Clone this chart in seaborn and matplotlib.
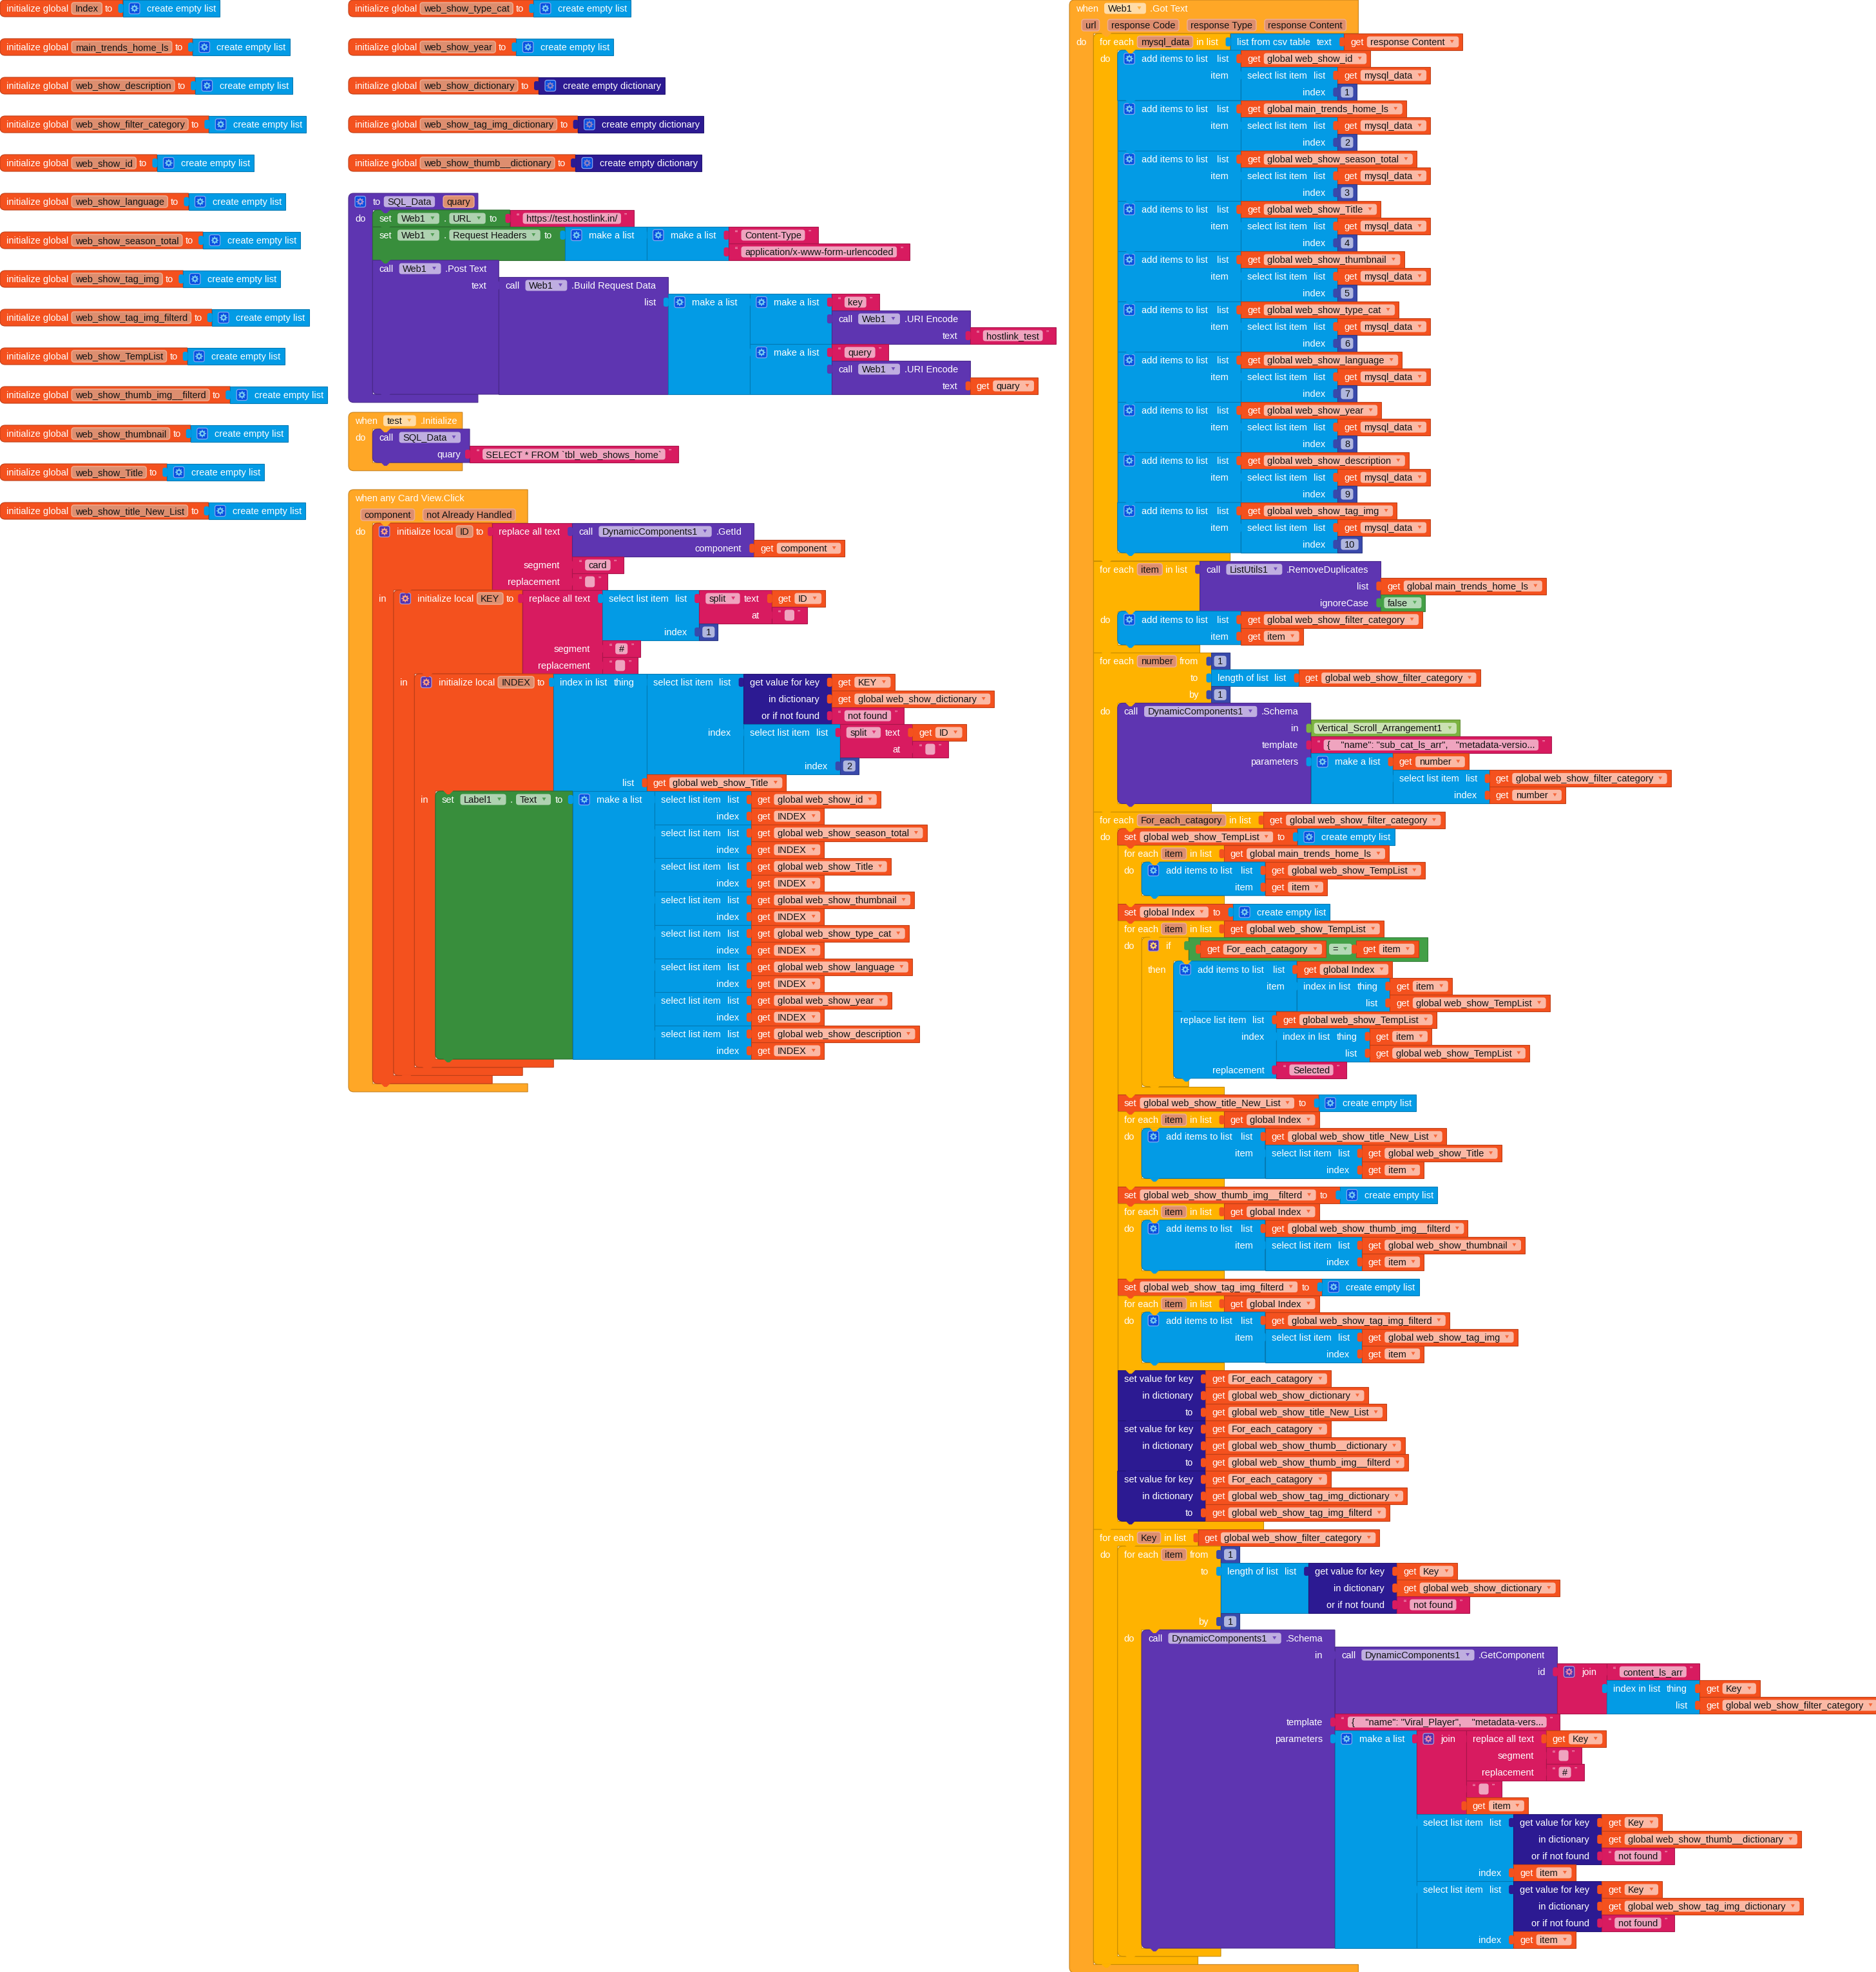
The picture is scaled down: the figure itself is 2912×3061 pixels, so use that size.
import matplotlib
matplotlib.use("Agg")
import matplotlib.pyplot as plt
import seaborn as sns
from matplotlib.font_manager import FontProperties
from matplotlib.patches import Circle, FancyBboxPatch, PathPatch, Polygon
from matplotlib.path import Path
import math

# App Inventor blocks, laid out by nesting, the sizes come from the measured text

# Variable names and other texts
LEFT_LIST_VARS = ["Index", "main_trends_home_ls", "web_show_description", "web_show_filter_category",
                  "web_show_id", "web_show_language", "web_show_season_total", "web_show_tag_img",
                  "web_show_tag_img_filterd", "web_show_TempList", "web_show_thumb_img__filterd",
                  "web_show_thumbnail", "web_show_Title", "web_show_title_New_List"]
RIGHT_LIST_VARS = ["web_show_type_cat", "web_show_year"]
RIGHT_DICT_VARS = ["web_show_dictionary", "web_show_tag_img_dictionary", "web_show_thumb__dictionary"]
CARD_TARGETS = ["global web_show_id", "global web_show_season_total", "global web_show_Title",
                "global web_show_thumbnail", "global web_show_type_cat", "global web_show_language",
                "global web_show_year", "global web_show_description"]
MYSQL_TARGETS = ["global web_show_id", "global main_trends_home_ls", "global web_show_season_total",
                 "global web_show_Title", "global web_show_thumbnail", "global web_show_type_cat",
                 "global web_show_language", "global web_show_year", "global web_show_description",
                 "global web_show_tag_img"]
MYSQL_INDEXES = [1, 2, 3, 4, 5, 6, 7, 8, 9, 10]
FILTERED_LISTS = ["global web_show_title_New_List", "global web_show_thumb_img__filterd",
                  "global web_show_tag_img_filterd"]
FILTER_SOURCES = ["global web_show_Title", "global web_show_thumbnail", "global web_show_tag_img"]
FILTER_DICTS = ["global web_show_dictionary", "global web_show_thumb__dictionary",
                "global web_show_tag_img_dictionary"]
GOT_TEXT_PARAMS = ["url", "response Code", "response Type", "response Content"]
CLICK_PARAMS = ["component", "not Already Handled"]
SCHEMA_ONE = '{    "name": "sub_cat_ls_arr",   "metadata-versio...'
SCHEMA_TWO = '{    "name": "Viral_Player",    "metadata-vers...'
SQL_TEXT = "SELECT * FROM `tbl_web_shows_home`"

sns.set_theme(style="white")
plt.rcParams["font.family"] = ["Liberation Sans", "DejaVu Sans"]

ORANGE, BLUE, PURPLE, GREEN, PINK = sns.color_palette(["#F4511E", "#039BE5", "#5E35B1", "#388E3C", "#D81B60"])
DARK, INDIGO, AMBER, EVENT, LOGIC, COMP = sns.color_palette(["#2C1A92", "#3949AB", "#FFB300", "#FFA726", "#43A047", "#7CB342"])
MUT_BLUE = (0.04, 0.31, 0.88)
MUT_PURPLE = (0.33, 0.2, 0.68)
WHITE = (1, 1, 1)
BLACK = (0, 0, 0)

FONT_PX = 14.6
ROW_H = 26
BAR_H = 12.7
GAP = 5

fig = plt.figure(figsize=(29.12, 30.61), dpi=100)
ax = fig.add_axes([0, 0, 1, 1])
ax.set_xlim(0, 2912)
ax.set_ylim(3061, 0)
sns.despine(ax=ax, left=True, bottom=True)
ax.set_xticks([])
ax.set_yticks([])

renderer = fig.canvas.get_renderer()
font_prop = FontProperties(family="Liberation Sans", size=FONT_PX * 0.72)
width_cache = {}


def mix(c, other, amount):
    return tuple(a + (b - a) * amount for a, b in zip(c, other))


def text_w(s):
    if s not in width_cache:
        width_cache[s] = renderer.get_text_width_height_descent(s, font_prop, False)[0]
    return width_cache[s]


# field helpers
def d(s):
    return ("d", s)


def p(s):
    return ("p", s)


def f(s):
    return ("f", s)


def mut(color=MUT_BLUE):
    return ("m", color)


def gap(n):
    return ("g", n)


def R(fields, child=None, stack=None, indent=0):
    return {"fields": fields, "child": child, "stack": stack, "indent": indent}


def B(color, rows, lpad=10, rpad=None):
    return {"color": color, "rows": rows, "lpad": lpad, "rpad": rpad}


def param_row(names):
    fields = []
    for name in names:
        if fields:
            fields.append(gap(3))
        fields.append(p(name))
    return R(fields, indent=9)


# block helpers
def get(name):
    return B(ORANGE, [R(["get", d(name)])])


def txt(s):
    return B(PINK, [R([("q", "\u201c"), f(s), ("q", "\u201d")])], rpad=10)


def num(n):
    return B(INDIGO, [R([f(str(n))])], lpad=5, rpad=5)


def empty_list():
    return B(BLUE, [R([mut(), "create empty list"])])


def empty_dict():
    return B(DARK, [R([mut(), "create empty dictionary"])])


def init_global(name, child):
    return B(ORANGE, [R(["initialize global", p(name), "to"], child)], rpad=15)


def make_list(*items):
    rows = [R([mut(), "make a list"], items[0])]
    for it in items[1:]:
        rows.append(R([], it))
    return B(BLUE, rows)


def select(lst, idx):
    return B(BLUE, [R(["select list item", gap(0), "list"], lst), R(["index"], idx)])


def index_in_list(thing, lst):
    return B(BLUE, [R(["index in list", gap(0), "thing"], thing), R(["list"], lst)])


def length_of(lst):
    return B(BLUE, [R(["length of list", gap(0), "list"], lst)])


def split(text, at):
    return B(PINK, [R([d("split"), "text"], text), R(["at"], at)])


def replace_all(a, seg, rep):
    return B(PINK, [R(["replace all text"], a), R(["segment"], seg), R(["replacement"], rep)])


def join(*items):
    rows = [R([mut(MUT_PURPLE), "join"], items[0])]
    for it in items[1:]:
        rows.append(R([], it))
    return B(PINK, rows, rpad=16)


def dict_get(key, dct, missing):
    return B(DARK, [R(["get value for key"], key), R(["in dictionary"], dct), R(["or if not found"], missing)])


def dict_set(key, dct, value):
    return B(DARK, [R(["set value for key"], key), R(["in dictionary"], dct), R(["to"], value)])


def add_items(lst, item):
    return B(BLUE, [R([mut(), "add items to list", gap(4), "list"], lst), R(["item"], item)])


def foreach(var, source, stack):
    return B(AMBER, [R(["for each", p(var), "in list"], source), R(["do"], stack=stack)])


def set_global(name, child):
    return B(ORANGE, [R(["set", d(name), "to"], child)])


def set_prop(comp, prop, child, rpad=None):
    return B(GREEN, [R(["set", gap(-1), d(comp), ".", d(prop), "to"], child)], rpad=rpad)


def call_head(comp, method=None):
    fields = ["call", gap(-1), d(comp)]
    if method:
        fields.append(method)
    return R(fields)


def call_web(method, rows):
    return B(PURPLE, [call_head("Web1", method)] + rows)


def uri_encode(child):
    return call_web(".URI Encode", [R(["text"], child)])


def local_init(name, child, stack):
    return B(ORANGE, [R([mut(MUT_PURPLE), "initialize local", p(name), "to"], child), R(["in"], stack=stack)], rpad=13)


def for_range(var, start, stop, step, stack):
    return B(AMBER, [R(["for each", p(var), "from"], start), R(["to"], stop), R(["by"], step), R(["do"], stack=stack)])


# layout
def field_w(fld):
    if isinstance(fld, str):
        return text_w(fld)
    if isinstance(fld, dict):
        measure(fld)
        return fld["w"]
    kind, val = fld
    if kind == "d":
        return text_w(val) + 27
    if kind in "pf":
        return max(text_w(val) + 11, 14)
    if kind == "m":
        return 16.5
    if kind == "q":
        return 5
    return val


def gap_after(fld):
    # the mutator icon and the dropdowns keep more air on their right
    if isinstance(fld, tuple) and fld[0] == "m":
        return 11
    if isinstance(fld, tuple) and fld[0] == "d":
        return 6.5
    return GAP


def fields_w(fields):
    total = 0
    for i, fld in enumerate(fields):
        total += field_w(fld)
        if i < len(fields) - 1:
            total += gap_after(fld)
    return total


def measure(b):
    widest = 0
    indent = 0
    has_child = False
    height = 0
    for row in b["rows"]:
        row["fw"] = fields_w(row["fields"]) + row["indent"]
        row["h"] = ROW_H
        if row["stack"]:
            indent = max(indent, b["lpad"] + row["fw"] + 11)
            total = 0
            for s in row["stack"]:
                measure(s)
                total += s["h"]
            row["h"] = max(ROW_H, total)
        else:
            widest = max(widest, row["fw"])
            for x in row["fields"]:
                if isinstance(x, dict):
                    row["h"] = max(row["h"], x["h"] + 11)
            if row["child"]:
                has_child = True
                measure(row["child"])
                row["h"] = max(row["h"], row["child"]["h"])
        height += row["h"]
    rpad = b["rpad"] if b["rpad"] is not None else (19 if has_child else 6)
    b["w"] = b["lpad"] + widest + rpad
    b["indent"] = indent
    b["used_rpad"] = rpad
    if b["rows"][-1]["stack"]:
        height += BAR_H
    b["h"] = height


def draw_body(b, x, y, round_top, round_bottom):
    verts = []
    yy = y
    for row in b["rows"]:
        rx = x + (b["indent"] if row["stack"] else b["w"])
        verts += [(rx, yy), (rx, yy + row["h"])]
        yy += row["h"]
    if b["rows"][-1]["stack"]:
        verts += [(x + b["w"], yy), (x + b["w"], yy + BAR_H)]
        yy += BAR_H
    rt = 8 if round_top else 0
    rb = 8 if round_bottom else 0
    points = [(x + rt, y)] + verts
    codes = [Path.MOVETO] + [Path.LINETO] * len(verts)
    points.append((x + rb, yy))
    codes.append(Path.LINETO)
    if rb:
        points += [(x, yy), (x, yy - rb)]
        codes += [Path.CURVE3, Path.CURVE3]
    points.append((x, y + rt))
    codes.append(Path.LINETO)
    if rt:
        points += [(x, y), (x + rt, y)]
        codes += [Path.CURVE3, Path.CURVE3]
    ax.add_patch(PathPatch(Path(points, codes), facecolor=b["color"], edgecolor=mix(b["color"], BLACK, 0.22), linewidth=0.8))


def draw_gear(cx, cy, gear, fill):
    for a in (0, 45, 90, 135):
        dx = 5.8 * math.cos(math.radians(a))
        dy = 5.8 * math.sin(math.radians(a))
        ax.add_patch(PathPatch(Path([(cx - dx, cy - dy), (cx + dx, cy + dy)]), edgecolor=gear, linewidth=1.1, fill=False))
    ax.add_patch(Circle((cx, cy), 4.4, facecolor=gear, edgecolor="none"))
    ax.add_patch(Circle((cx, cy), 2, facecolor=fill, edgecolor="none"))


def draw_field(fld, b, fx, cy):
    color = b["color"]
    if isinstance(fld, str):
        ax.text(fx, cy + 5, fld, color="white", fontsize=FONT_PX * 0.72, va="baseline", ha="left")
        return
    if isinstance(fld, dict):
        draw_block(fld, fx, cy - fld["h"] / 2, tab=True)
        return
    kind, val = fld
    w = field_w(fld)
    if kind == "q":
        ax.text(fx, cy + 1, val, color=mix(color, WHITE, 0.8), fontsize=9, va="baseline", ha="left")
    elif kind == "m":
        ax.add_patch(FancyBboxPatch((fx, cy - 8.5), w, 17, boxstyle="round,pad=0,rounding_size=3", facecolor=val,
                                    edgecolor=mix(val, WHITE, 0.5), linewidth=0.9))
        draw_gear(fx + w / 2, cy, mix(color, WHITE, 0.45), val)
    elif kind == "p":
        ax.add_patch(FancyBboxPatch((fx, cy - 9), w, 18, boxstyle="round,pad=0,rounding_size=4", facecolor="#DD8E6F",
                                    edgecolor="#EFAC91", linewidth=1.1))
        ax.text(fx + 5.5, cy + 5, val, color="#111111", fontsize=FONT_PX * 0.72, va="baseline", ha="left")
    elif kind in "df":
        ax.add_patch(FancyBboxPatch((fx, cy - 8.5), w, 17, boxstyle="round,pad=0,rounding_size=4",
                                    facecolor=mix(color, WHITE, 0.6), edgecolor="none"))
        ax.text(fx + 5.5, cy + 5, val, color="#111111", fontsize=FONT_PX * 0.72, va="baseline", ha="left")
        if kind == "d":
            tx = fx + w - 10.5
            ax.add_patch(Polygon([(tx - 3, cy - 3), (tx + 3, cy - 3), (tx, cy + 2)], facecolor=mix(color, WHITE, 0.12), edgecolor="none"))


def notch(x, y, color):
    ax.add_patch(Polygon([(x + 12, y - 1), (x + 28, y - 1), (x + 22, y + 5), (x + 18, y + 5)], facecolor=color, edgecolor="none"))


def draw_block(b, x, y, tab=False, round_top=False, round_bottom=False):
    draw_body(b, x, y, round_top, round_bottom)
    if tab:
        ax.add_patch(FancyBboxPatch((x - 7, y + 6), 8, 14, boxstyle="round,pad=0,rounding_size=3", facecolor=b["color"], edgecolor="none"))
    yy = y
    for i, row in enumerate(b["rows"]):
        inline = any(isinstance(z, dict) for z in row["fields"])
        cy = yy + (row["h"] / 2 if inline else ROW_H / 2)
        left = i == 0 or row["stack"] or row["indent"]
        fx = x + b["lpad"] + row["indent"] if left else x + b["w"] - b["used_rpad"] - row["fw"]
        for fld in row["fields"]:
            draw_field(fld, b, fx, cy)
            fx += field_w(fld) + gap_after(fld)
        if row["child"]:
            draw_block(row["child"], x + b["w"], yy, tab=True)
        if row["stack"]:
            draw_stack(row["stack"], x + b["indent"], yy, b["color"])
        yy += row["h"]


def draw_stack(stack, x, y, parent_color):
    yy = y
    for i, s in enumerate(stack):
        draw_block(s, x, yy, round_top=i == 0, round_bottom=i == len(stack) - 1)
        yy += s["h"]
    notch(x, y, parent_color)
    yy = y
    for s in stack:
        yy += s["h"]
        notch(x, yy, s["color"])


def place(b, x, y, bottom=True):
    measure(b)
    draw_block(b, x, y, round_top=True, round_bottom=bottom)


# Top left rows of global variables
for i, name in enumerate(LEFT_LIST_VARS):
    place(init_global(name, empty_list()), 0, i * 60)
for i, name in enumerate(RIGHT_LIST_VARS):
    place(init_global(name, empty_list()), 541, i * 60)
for i, name in enumerate(RIGHT_DICT_VARS):
    place(init_global(name, empty_dict()), 541, (i + 2) * 60)

# to SQL_Data
build_request = call_web(".Build Request Data", [R(["list"], make_list(
    make_list(txt("key"), uri_encode(txt("hostlink_test"))),
    make_list(txt("query"), uri_encode(get("quary")))))])
sql_proc = B(PURPLE, [
    R([mut(), "to", f("SQL_Data"), gap(3), p("quary")]),
    R(["do"], stack=[
        set_prop("Web1", "URL", txt("https://test.hostlink.in/")),
        set_prop("Web1", "Request Headers", make_list(make_list(txt("Content-Type"), txt("application/x-www-form-urlencoded")))),
        call_web(".Post Text", [R(["text"], build_request)]),
    ])])
place(sql_proc, 541, 300)

# when test.Initialize
when_test = B(EVENT, [
    R(["when", gap(-1), d("test"), ".Initialize"]),
    R(["do"], stack=[B(PURPLE, [call_head("SQL_Data"), R(["quary"], txt(SQL_TEXT))], rpad=14)]),
], rpad=8)
place(when_test, 541, 640)

# when any Card View.Click
label_set = set_prop("Label1", "Text", make_list(*[select(get(t), get("INDEX")) for t in CARD_TARGETS]), rpad=15)
index_child = index_in_list(
    select(dict_get(get("KEY"), get("global web_show_dictionary"), txt("not found")),
           select(split(get("ID"), txt(" ")), num(2))),
    get("global web_show_Title"))
key_child = replace_all(select(split(get("ID"), txt(" ")), num(1)), txt("#"), txt(" "))
id_child = replace_all(
    B(PURPLE, [call_head("DynamicComponents1", ".GetId"), R(["component"], get("component"))]),
    txt("card"), txt(" "))
when_card = B(EVENT, [
    R(["when any Card View.Click"]),
    param_row(CLICK_PARAMS),
    R(["do"], stack=[local_init("ID", id_child, [local_init("KEY", key_child, [local_init("INDEX", index_child, [label_set])])])]),
], rpad=19)
place(when_card, 541, 760)

# when Web1.Got Text
mysql_loop = foreach("mysql_data", B(BLUE, [R(["list from csv table", gap(0), "text"], get("response Content"))]),
                     [add_items(get(t), select(get("mysql_data"), num(n))) for t, n in zip(MYSQL_TARGETS, MYSQL_INDEXES)])
dedupe = B(PURPLE, [call_head("ListUtils1", ".RemoveDuplicates"),
                    R(["list"], get("global main_trends_home_ls")),
                    R(["ignoreCase"], B(LOGIC, [R([d("false")])], lpad=5, rpad=5))])
dedupe_loop = foreach("item", dedupe, [add_items(get("global web_show_filter_category"), get("item"))])
schema_one = B(PURPLE, [
    call_head("DynamicComponents1", ".Schema"),
    R(["in"], B(COMP, [R([d("Vertical_Scroll_Arrangement1")])], lpad=5, rpad=5)),
    R(["template"], txt(SCHEMA_ONE)),
    R(["parameters"], make_list(get("number"), select(get("global web_show_filter_category"), get("number")))),
])
number_loop = for_range("number", num(1), length_of(get("global web_show_filter_category")), num(1), [schema_one])

compare = B(LOGIC, [R([get("For_each_catagory"), d("="), get("item")])], lpad=18, rpad=14)
if_block = B(AMBER, [
    R([mut(MUT_PURPLE), "if", gap(4)], compare),
    R(["then"], stack=[
        add_items(get("global Index"), index_in_list(get("item"), get("global web_show_TempList"))),
        B(BLUE, [R(["replace list item", gap(0), "list"], get("global web_show_TempList")),
                 R(["index"], index_in_list(get("item"), get("global web_show_TempList"))),
                 R(["replacement"], txt("Selected"))]),
    ])])
category_stack = [
    set_global("global web_show_TempList", empty_list()),
    foreach("item", get("global main_trends_home_ls"), [add_items(get("global web_show_TempList"), get("item"))]),
    set_global("global Index", empty_list()),
    foreach("item", get("global web_show_TempList"), [if_block]),
]
for target, source in zip(FILTERED_LISTS, FILTER_SOURCES):
    category_stack.append(set_global(target, empty_list()))
    category_stack.append(foreach("item", get("global Index"), [add_items(get(target), select(get(source), get("item")))]))
for dct, target in zip(FILTER_DICTS, FILTERED_LISTS):
    category_stack.append(dict_set(get("For_each_catagory"), get(dct), get(target)))
category_loop = foreach("For_each_catagory", get("global web_show_filter_category"), category_stack)

get_component = B(PURPLE, [
    call_head("DynamicComponents1", ".GetComponent"),
    R(["id"], join(txt("content_ls_arr"), index_in_list(get("Key"), get("global web_show_filter_category")))),
])
schema_two = B(PURPLE, [
    call_head("DynamicComponents1", ".Schema"),
    R(["in"], get_component),
    R(["template"], txt(SCHEMA_TWO)),
    R(["parameters"], make_list(
        join(replace_all(get("Key"), txt(" "), txt("#")), txt(" "), get("item")),
        select(dict_get(get("Key"), get("global web_show_thumb__dictionary"), txt("not found")), get("item")),
        select(dict_get(get("Key"), get("global web_show_tag_img_dictionary"), txt("not found")), get("item")))),
])
key_loop = foreach("Key", get("global web_show_filter_category"), [
    for_range("item", num(1), length_of(dict_get(get("Key"), get("global web_show_dictionary"), txt("not found"))), num(1), [schema_two]),
])
when_web = B(EVENT, [
    R(["when", gap(-1), d("Web1"), ".Got Text"]),
    param_row(GOT_TEXT_PARAMS),
    R(["do"], stack=[mysql_loop, dedupe_loop, number_loop, category_loop, key_loop]),
], rpad=19)
place(when_web, 1660, 0)

fig.savefig("out.png", dpi=100, facecolor="white")
